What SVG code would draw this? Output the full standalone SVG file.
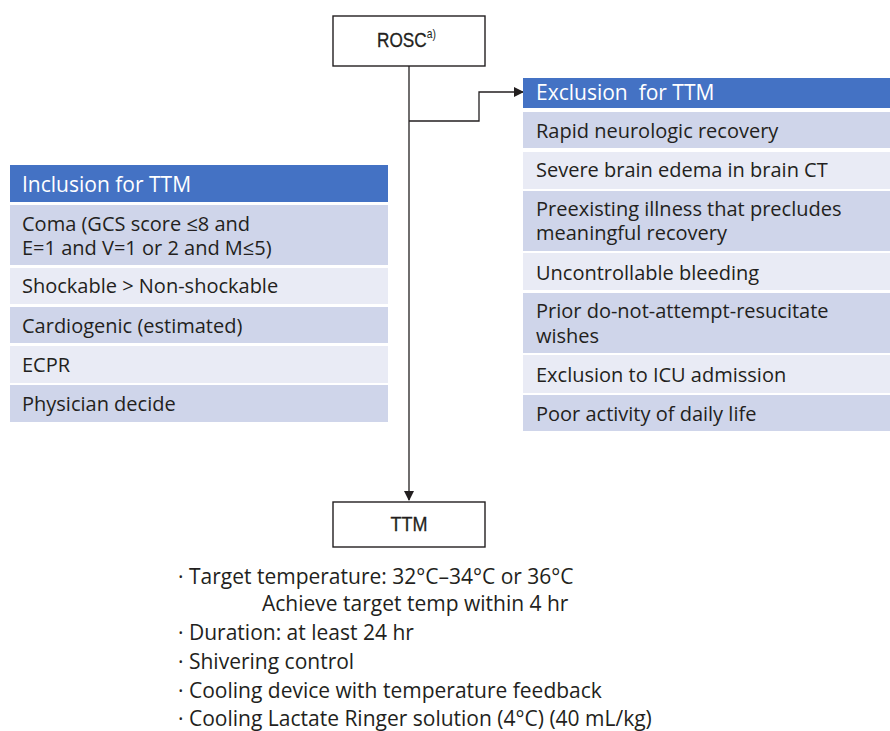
<svg xmlns="http://www.w3.org/2000/svg" width="890" height="731" viewBox="0 0 890 731">
<style>
.t{font-family:"Open Sans","DejaVu Sans",sans-serif;font-size:20px;fill:#231f20}
.n{font-family:"Open Sans","DejaVu Sans",sans-serif;font-size:21px;fill:#231f20}
.h{font-family:"Open Sans","DejaVu Sans",sans-serif;font-size:21px;fill:#ffffff;white-space:pre}
.bx{font-family:"Liberation Sans",Arial,sans-serif;font-size:20px;fill:#231f20}
.hd{fill:#4472c4}
.d{fill:#cfd5ea}
.l{fill:#e9ebf5}
.box{fill:#ffffff;stroke:#231f20;stroke-width:1.4}
.ln{fill:none;stroke:#231f20;stroke-width:1.3}
</style>
<defs>
<marker id="ah" markerWidth="10" markerHeight="10" refX="9" refY="5" orient="auto" markerUnits="userSpaceOnUse">
<path d="M0,0 L10,5 L0,10 Z" fill="#231f20"/>
</marker>
</defs>
<rect width="890" height="731" fill="#ffffff"/>
<g id="connectors">
<path class="ln" d="M409,66 V500" marker-end="url(#ah)"/>
<path class="ln" d="M409,121 H479 V92 H523" marker-end="url(#ah)"/>
</g>
<g id="rosc">
<rect class="box" x="333" y="16" width="152" height="50"/>
<text class="bx" transform="translate(377,47) scale(0.86,1)" stroke="#231f20" stroke-width="0.3">ROSC<tspan font-size="12" dy="-9" stroke-width="0">a)</tspan></text>
</g>
<g id="exclusion">
<rect class="hd" x="523" y="78" width="367" height="30"/>
<text class="h" x="536" y="100" xml:space="preserve">Exclusion  for TTM</text>
<rect class="d" x="523" y="112" width="367" height="36"/>
<text class="t" x="536" y="138">Rapid neurologic recovery</text>
<rect class="l" x="523" y="152" width="367" height="37"/>
<text class="t" x="536" y="177">Severe brain edema in brain CT</text>
<rect class="d" x="523" y="191" width="367" height="60"/>
<text class="t"><tspan x="536" y="216">Preexisting illness that precludes</tspan><tspan x="536" y="240">meaningful recovery</tspan></text>
<rect class="l" x="523" y="253" width="367" height="37"/>
<text class="t" x="536" y="280">Uncontrollable bleeding</text>
<rect class="d" x="523" y="293" width="367" height="60"/>
<text class="t"><tspan x="536" y="318">Prior do-not-attempt-resucitate</tspan><tspan x="536" y="343">wishes</tspan></text>
<rect class="l" x="523" y="355" width="367" height="38"/>
<text class="t" x="536" y="382">Exclusion to ICU admission</text>
<rect class="d" x="523" y="395" width="367" height="36"/>
<text class="t" x="536" y="421">Poor activity of daily life</text>
</g>
<g id="inclusion">
<rect class="hd" x="10" y="165" width="378" height="37"/>
<text class="h" x="22" y="192">Inclusion for TTM</text>
<rect class="d" x="10" y="205" width="378" height="60"/>
<text class="t"><tspan x="22" y="231">Coma (GCS score ≤8 and</tspan><tspan x="22" y="255">E=1 and V=1 or 2 and M≤5)</tspan></text>
<rect class="l" x="10" y="268" width="378" height="36"/>
<text class="t" x="22" y="293">Shockable &gt; Non-shockable</text>
<rect class="d" x="10" y="307" width="378" height="36"/>
<text class="t" x="22" y="333">Cardiogenic (estimated)</text>
<rect class="l" x="10" y="346" width="378" height="37"/>
<text class="t" x="22" y="372">ECPR</text>
<rect class="d" x="10" y="385" width="378" height="37"/>
<text class="t" x="22" y="411">Physician decide</text>
</g>
<g id="ttm">
<rect class="box" x="333" y="502" width="152" height="45"/>
<text class="bx" transform="translate(409,531) scale(0.9,1)" text-anchor="middle" stroke="#231f20" stroke-width="0.3">TTM</text>
</g>
<g id="ttm-notes">
<text class="n" x="178" y="584">· Target temperature: 32°C–34°C or 36°C</text>
<text class="n" x="262" y="611">Achieve target temp within 4 hr</text>
<text class="n" x="178" y="640">· Duration: at least 24 hr</text>
<text class="n" x="178" y="669">· Shivering control</text>
<text class="n" x="178" y="698">· Cooling device with temperature feedback</text>
<text class="n" x="178" y="726">· Cooling Lactate Ringer solution (4°C) (40 mL/kg)</text>
</g>
</svg>
